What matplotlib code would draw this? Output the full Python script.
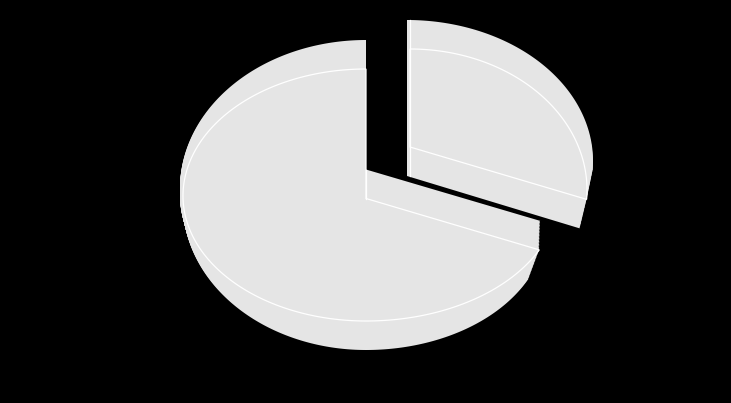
import numpy as np
import matplotlib.pyplot as plt
from matplotlib.patches import Polygon

# pie data (share of the whole), drawn clockwise from 12 o'clock
shares = [32, 68]
explode = [True, False]

fill_color = '#e5e5e5'
edge_color = '#ffffff'
bg_color = '#000000'

# screen geometry of each slice (pixels): vertex, ellipse centre and radii
# radii = (rx_left, rx_right, ry_back, ry_front)
# grow_* = extra width of the rim at the (upper, middle, lower) level
geom = [
    dict(vertex=(410, 147), centre=(410, 190), radii=(177, 177, 141, 141),
         grow_l=(3, 3, 0), grow_r=(9, 0, -4), shift=-3),
    dict(vertex=(366, 198.5), centre=(366, 196), radii=(183, 192, 127, 125),
         grow_l=(3, 3, 0), grow_r=(1, 0, -12), shift=0),
]
depth = 29          # half thickness of the pie in pixels
side_left = 0.27    # share of the thickness seen at the far left
ray_squash = 0.63   # vertical squash of the slice borders


def pick(radii, cx, sy):
    rx = radii[1] if cx >= 0 else radii[0]
    ry = radii[2] if sy >= 0 else radii[3]
    return rx, ry


def ellipse_val(c, radii, p):
    dx = p[0] - c[0]
    dy = c[1] - p[1]
    rx, ry = pick(radii, dx, dy)
    return (dx / rx) ** 2 + (dy / ry) ** 2


def ray_hit(v, c, radii, theta):
    d = np.array([np.cos(theta), -ray_squash * np.sin(theta)])
    lo, hi = 0.0, 1000.0
    for _ in range(60):
        mid = (lo + hi) / 2
        if ellipse_val(c, radii, np.array(v) + mid * d) < 1:
            lo = mid
        else:
            hi = mid
    return np.array(v) + lo * d


def to_phi(c, radii, p):
    dx = p[0] - c[0]
    dy = c[1] - p[1]
    rx, ry = pick(radii, dx, dy)
    return np.arctan2(dy / ry, dx / rx)


def level_grow(trip, z):
    if z < 0:
        return trip[1] + (trip[0] - trip[1]) * (-z)
    return trip[1] + (trip[2] - trip[1]) * z


def slice_level(g, ph0, ph1, z, rim=True, n=300):
    dxs = g['shift'] * abs(z)
    v = (g['vertex'][0] + dxs, g['vertex'][1] + depth * z)
    cx, cy = g['centre'][0] + dxs, g['centre'][1]
    gl = level_grow(g['grow_l'], z) if rim else 0
    gr = level_grow(g['grow_r'], z) if rim else 0
    r = g['radii']
    radii = (r[0] + gl, r[1] + gr, r[2], r[3])
    pts = [v]
    for ph in np.linspace(ph0, ph1, n):
        c, s = np.cos(ph), np.sin(ph)
        rx, ry = pick(radii, c, s)
        a = side_left if c < 0 else 1.0
        lift = depth * (a + (1 - a) * abs(s))
        pts.append((cx + rx * c, cy - ry * s + z * lift))
    return np.array(pts)


fig = plt.figure(figsize=(7.31, 4.03), dpi=100, facecolor=bg_color)
ax = fig.add_axes([0, 0, 1, 1])
ax.set_facecolor(bg_color)
ax.set_xlim(0, 731)
ax.set_ylim(403, 0)
ax.axis('off')

total = sum(shares)
start = np.pi / 2
for share, out, g in zip(shares, explode, geom):
    a0 = start
    a1 = start - 2 * np.pi * share / total
    start = a1

    # where the two slice borders meet the rim (middle level)
    ph0 = to_phi(g['centre'], g['radii'], ray_hit(g['vertex'], g['centre'], g['radii'], a0))
    ph1 = to_phi(g['centre'], g['radii'], ray_hit(g['vertex'], g['centre'], g['radii'], a1))
    while ph1 >= ph0:
        ph1 -= 2 * np.pi

    # body of the slice: the face swept through the thickness
    for z in np.linspace(-1, 1, 41):
        pts = slice_level(g, ph0, ph1, z)
        ax.add_patch(Polygon(pts, closed=True, facecolor=fill_color,
                             edgecolor='none', linewidth=0))

    # white border lines in the middle of the thickness
    pts = slice_level(g, ph0, ph1, 0, rim=False)
    v = pts[0]
    ax.add_patch(Polygon(pts, closed=True, facecolor='none',
                         edgecolor=edge_color, linewidth=0.9))
    if out:
        ax.plot([v[0], v[0]], [pts[1][1] - depth, v[1] + depth],
                color=edge_color, lw=0.9)
    else:
        ax.plot([v[0], v[0]], [v[1] - depth, v[1]], color=edge_color, lw=0.9)

fig.savefig('out.png', dpi=100, facecolor=bg_color)
